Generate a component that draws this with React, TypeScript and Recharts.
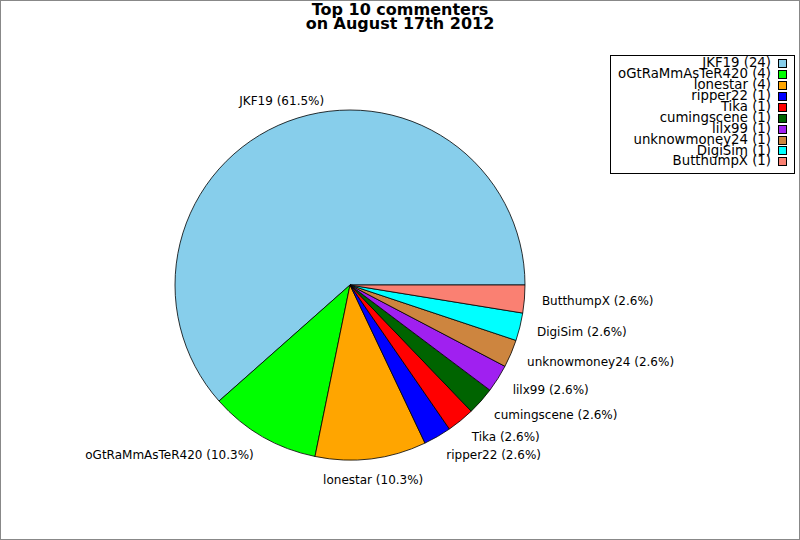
import React from 'react';
import { PieChart, Pie, Cell, Legend } from 'recharts';

const commenters = ['JKF19', 'oGtRaMmAsTeR420', 'lonestar', 'ripper22', 'Tika', 'cumingscene', 'lilx99', 'unknowmoney24', 'DigiSim', 'ButthumpX'];
const comments = [24, 4, 4, 1, 1, 1, 1, 1, 1, 1];
const sliceColors = ['#87CEEB', '#00FF00', '#FFA500', '#0000FF', '#FF0000', '#006400', '#A020F0', '#CD853F', '#00FFFF', '#FA8072'];
const titleLines = ['Top 10 commenters', 'on August 17th 2012'];

const data = commenters.map((name, i) => ({ name, value: comments[i] }));
const FONT = '"DejaVu Sans", sans-serif';
const RAD = Math.PI / 180;

const renderLabel = (props: any) => {
  const { cx, cy, midAngle, outerRadius, percent } = props;
  const name = props.payload?.name ?? props.name;
  const r = outerRadius * 1.1;
  const c = Math.cos(-midAngle * RAD);
  const x = cx + r * c;
  const y = cy + r * 1.02 * Math.sin(-midAngle * RAD);
  const anchor = c > 0.45 ? 'start' : c < -0.45 ? 'end' : 'middle';
  return (
    <text x={x} y={y} textAnchor={anchor} dominantBaseline="central" fontFamily={FONT} fontSize={12} fill="#000">
      {`${name} (${(percent * 100).toFixed(1)}%)`}
    </text>
  );
};

const renderLegend = () => (
  <div
    style={{
      boxSizing: 'border-box',
      width: 185,
      height: 119,
      border: '1px solid #000',
      background: '#fff',
      paddingTop: 2,
      paddingRight: 7,
      fontFamily: FONT,
      fontSize: 13.3,
      color: '#000',
    }}
  >
    {commenters.map((name, i) => (
      <div
        key={name}
        style={{ height: 10.95, lineHeight: '10.95px', display: 'flex', justifyContent: 'flex-end', alignItems: 'center', whiteSpace: 'nowrap' }}
      >
        <span>{`${name} (${comments[i]})`}</span>
        <span
          style={{
            display: 'inline-block',
            boxSizing: 'border-box',
            width: 9,
            height: 9,
            marginLeft: 7,
            border: '1px solid #000',
            background: sliceColors[i],
          }}
        />
      </div>
    ))}
  </div>
);

export default function App() {
  return (
    <div style={{ position: 'absolute', left: 0, top: 0, width: 800, height: 540, background: '#fff', overflow: 'hidden' }}>
      <PieChart width={800} height={540} margin={{ top: 0, right: 0, bottom: 0, left: 0 }}>
        <Pie
          data={data}
          dataKey="value"
          nameKey="name"
          cx={350}
          cy={285}
          outerRadius={175}
          startAngle={0}
          endAngle={360}
          stroke="#000"
          strokeWidth={0.8}
          label={renderLabel}
          labelLine={false}
          isAnimationActive={false}
        >
          {data.map((d, i) => (
            <Cell key={d.name} fill={sliceColors[i]} />
          ))}
        </Pie>
        <Legend
          layout="vertical"
          align="right"
          verticalAlign="top"
          content={renderLegend}
          wrapperStyle={{ position: 'absolute', left: 610, top: 55, right: 'auto', width: 185, height: 119 }}
        />
      </PieChart>
      <div
        style={{
          position: 'absolute',
          left: 0,
          top: 3.3,
          width: 800,
          textAlign: 'center',
          fontFamily: FONT,
          fontWeight: 'bold',
          fontSize: 16,
          lineHeight: '13.7px',
          color: '#000',
        }}
      >
        {titleLines.map((t) => (
          <div key={t}>{t}</div>
        ))}
      </div>
      <div
        style={{
          position: 'absolute',
          left: 0,
          top: 0,
          width: 800,
          height: 540,
          boxSizing: 'border-box',
          border: '1px solid #888',
          pointerEvents: 'none',
        }}
      />
    </div>
  );
}
